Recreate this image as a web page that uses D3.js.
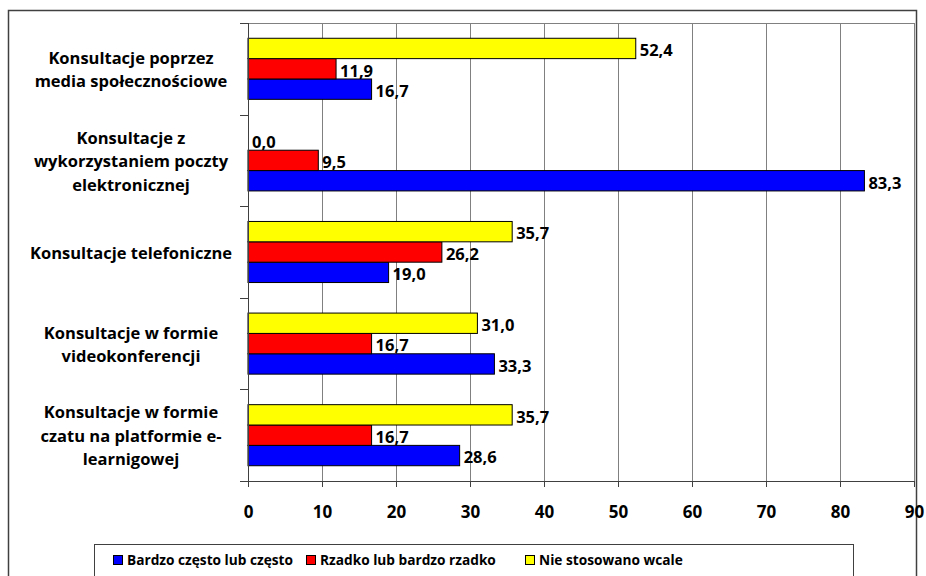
<!DOCTYPE html>
<html>
<head>
<meta charset="utf-8">
<script src="https://cdn.jsdelivr.net/npm/d3@7"></script>
<style>
  body { margin: 0; background: #fff; }
  text { font-family: "Open Sans", sans-serif; font-weight: bold; fill: #000; }
</style>
</head>
<body>
<div id="chart"></div>
<script>
var width = 926, height = 576;

// categories, top to bottom, already split into lines like the original
var categories = [
  ["Konsultacje poprzez", "media społecznościowe"],
  ["Konsultacje z", "wykorzystaniem poczty", "elektronicznej"],
  ["Konsultacje telefoniczne"],
  ["Konsultacje w formie", "videokonferencji"],
  ["Konsultacje w formie", "czatu na platformie e-", "learnigowej"]
];
var seriesNames = ["Bardzo często lub często", "Rzadko lub bardzo rzadko", "Nie stosowano wcale"];
var seriesColors = ["#0000ff", "#ff0000", "#ffff00"];
var bardzoCzesto = [16.7, 83.3, 19.0, 33.3, 28.6];
var rzadko = [11.9, 9.5, 26.2, 16.7, 16.7];
var nieStosowano = [52.4, 0.0, 35.7, 31.0, 35.7];
var xTicks = [0, 10, 20, 30, 40, 50, 60, 70, 80, 90];

var series = [bardzoCzesto, rzadko, nieStosowano];

var plot = {left: 248, right: 914, top: 23, bottom: 481};

var svg = d3.select("#chart").append("svg")
    .attr("width", width)
    .attr("height", height);

// outer chart border
svg.append("rect")
    .attr("x", 8.5).attr("y", 10.5)
    .attr("width", 908).attr("height", 600)
    .attr("fill", "#fff")
    .attr("stroke", "#404040").attr("stroke-width", 1.5);

var x = d3.scaleLinear().domain([0, 90]).range([plot.left, plot.right]);
var y = d3.scaleBand().domain(d3.range(categories.length))
    .range([plot.top, plot.bottom]).paddingInner(0).paddingOuter(0);
// yellow on top, blue at bottom
var ySub = d3.scaleBand().domain([2, 1, 0]).range([0, y.bandwidth()]).paddingOuter(0.75).paddingInner(0);

// gridlines
svg.append("g")
  .selectAll("line")
  .data(xTicks.slice(1))
  .enter().append("line")
    .attr("x1", d => Math.round(x(d)) + 0.5).attr("x2", d => Math.round(x(d)) + 0.5)
    .attr("y1", plot.top).attr("y2", plot.bottom)
    .attr("stroke", "#808080");

svg.append("line")
    .attr("x1", plot.left).attr("x2", plot.right)
    .attr("y1", plot.top + 0.5).attr("y2", plot.top + 0.5)
    .attr("stroke", "#808080");

// bars
var groups = svg.append("g").selectAll("g")
  .data(categories)
  .enter().append("g")
    .attr("transform", (d, i) => "translate(0," + y(i) + ")");

groups.each(function(c, i) {
    var g = d3.select(this);
    series.forEach(function(vals, s) {
        var v = vals[i];
        var by = ySub(s);
        if (v > 0) {
            g.append("rect")
                .attr("x", x(0)).attr("y", by)
                .attr("width", x(v) - x(0)).attr("height", ySub.bandwidth())
                .attr("fill", seriesColors[s])
                .attr("stroke", "#000").attr("stroke-width", 1);
        }
        g.append("text")
            .attr("x", x(v) + 4)
            .attr("y", by + ySub.bandwidth() / 2 + 2)
            .attr("dy", "0.35em")
            .style("font-size", "16.5px")
            .text(v.toFixed(1).replace(".", ","));
    });
});

// x axis
var xAxis = d3.axisBottom(x).tickValues(xTicks).tickSize(6).tickPadding(19)
    .tickFormat(d => d);
var gx = svg.append("g")
    .attr("transform", "translate(0," + plot.bottom + ")")
    .call(xAxis);
gx.select(".domain").attr("stroke", "#404040").attr("d", "M" + (plot.left - 8) + ",0.5H" + plot.right);
gx.selectAll(".tick line").attr("stroke", "#404040");
gx.selectAll(".tick text").style("font-size", "17px").style("font-family", "'Open Sans', sans-serif").style("font-weight", "bold");

// y axis line with category separator ticks
svg.append("line")
    .attr("x1", plot.left + 0.5).attr("x2", plot.left + 0.5)
    .attr("y1", plot.top).attr("y2", plot.bottom + 6)
    .attr("stroke", "#404040");
svg.append("g").selectAll("line")
  .data(d3.range(categories.length + 1))
  .enter().append("line")
    .attr("x1", plot.left - 8).attr("x2", plot.left)
    .attr("y1", i => Math.round(plot.top + i * y.step()) + 0.5)
    .attr("y2", i => Math.round(plot.top + i * y.step()) + 0.5)
    .attr("stroke", "#404040");

// category labels
var lineH = 23.5;
svg.append("g").selectAll("text")
  .data(categories)
  .enter().append("text")
    .attr("text-anchor", "middle")
    .style("font-size", "16.5px")
    .each(function(lines, i) {
        var cy = y(i) + y.bandwidth() / 2 + 1;
        var t = d3.select(this);
        lines.forEach(function(l, k) {
            t.append("tspan")
                .attr("x", 131)
                .attr("y", cy + (k - (lines.length - 1) / 2) * lineH)
                .attr("dy", "0.35em")
                .text(l);
        });
    });

// legend
var legend = svg.append("g");
legend.append("rect")
    .attr("x", 94.5).attr("y", 544.5)
    .attr("width", 759).attr("height", 40)
    .attr("fill", "#fff").attr("stroke", "#404040");
var legendX = [113, 306, 525];
seriesNames.forEach(function(n, s) {
    legend.append("rect")
        .attr("x", legendX[s] + 0.5).attr("y", 555.5)
        .attr("width", 9).attr("height", 9)
        .attr("fill", seriesColors[s]).attr("stroke", "#000");
    legend.append("text")
        .attr("x", legendX[s] + 14).attr("y", 560).attr("dy", "0.35em")
        .style("font-size", "13.7px")
        .text(n);
});
</script>
</body>
</html>
